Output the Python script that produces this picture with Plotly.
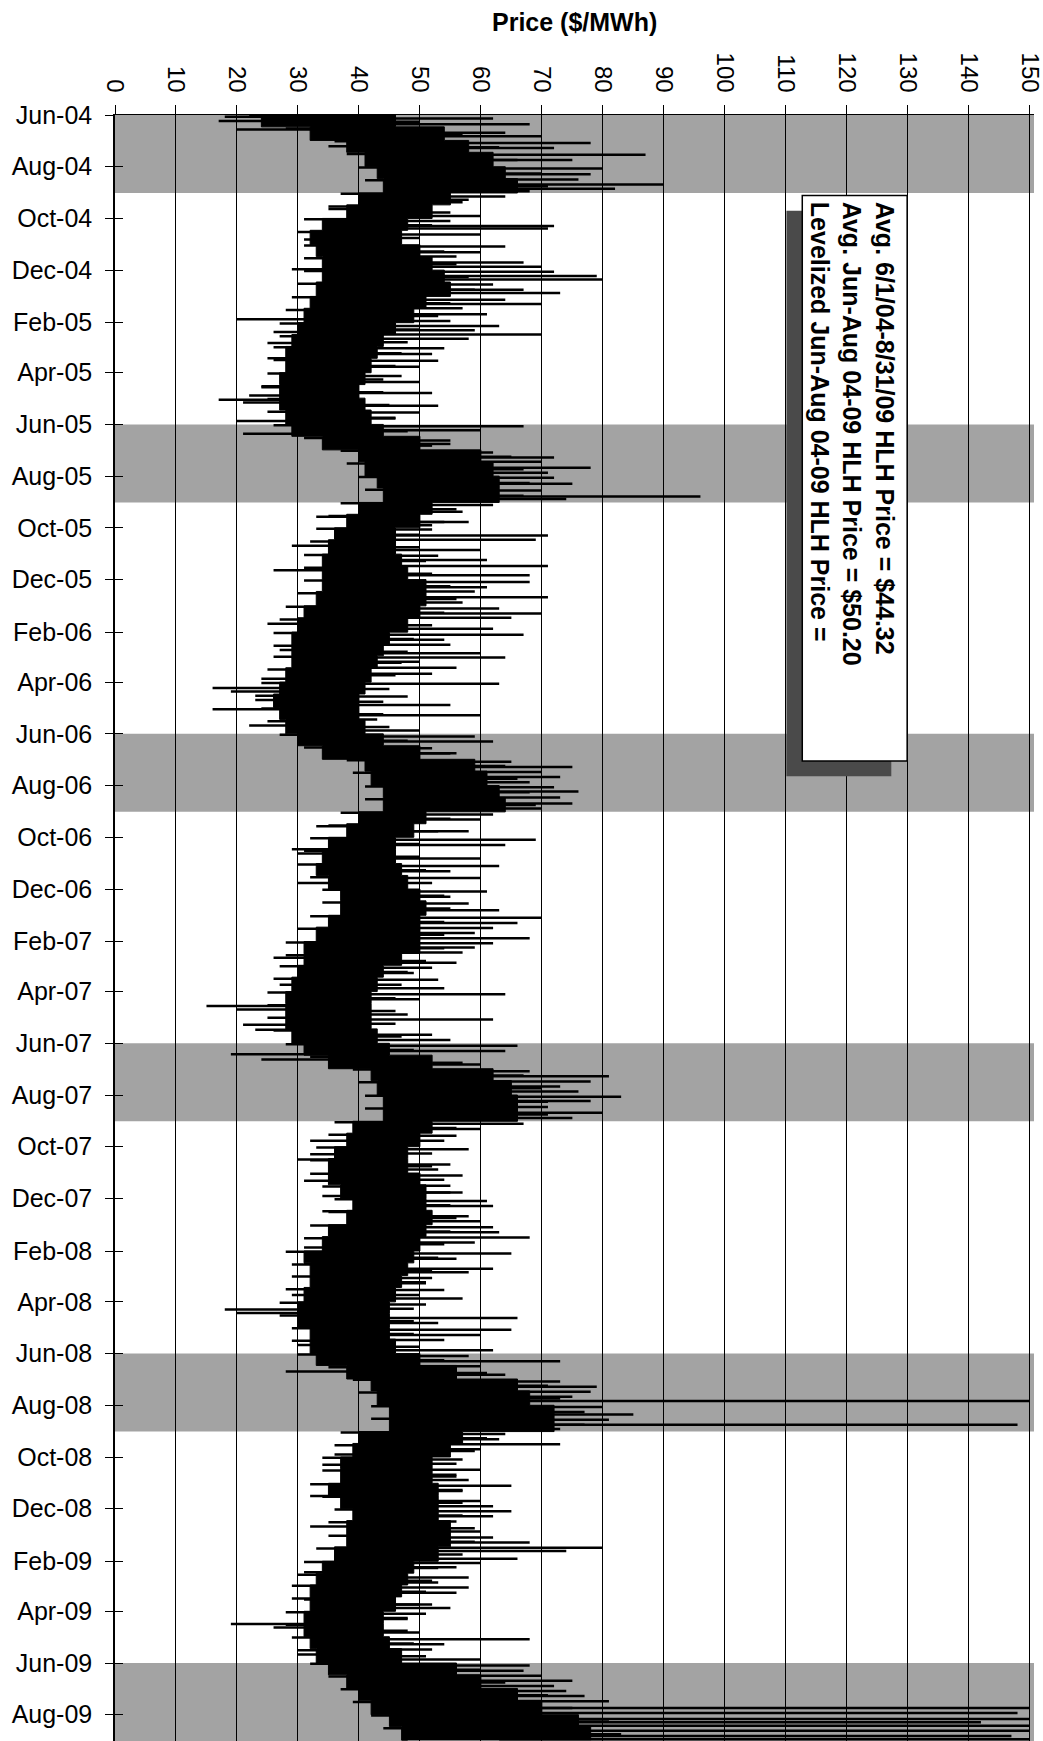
import numpy as np
import pandas as pd
import plotly.graph_objects as go

# ---------------- data ----------------
# semi-monthly envelope of the daily HLH price band (1st and 15th of each month)
env_dates = list(pd.date_range("2004-06-01", "2009-08-16", freq="SMS")) + [pd.Timestamp("2009-08-31")]

price_low = [
    # 2004 Jun-Dec
    24, 32, 38, 41, 43, 44, 40, 38, 34, 32, 33, 34, 34, 33,
    # 2005
    32, 31, 30, 29, 28, 28, 27, 27, 27, 28, 29, 34, 40, 41, 43, 44, 40, 38, 36, 35, 34, 34, 34, 33,
    # 2006
    31, 30, 29, 29, 29, 28, 27, 26, 27, 28, 30, 34, 41, 42, 44, 44, 40, 38, 35, 34, 33, 35, 37, 37,
    # 2007
    35, 33, 31, 31, 30, 29, 28, 28, 28, 29, 31, 35, 42, 43, 44, 44, 39, 38, 36, 35, 35, 37, 39, 38,
    # 2008
    35, 34, 31, 32, 32, 31, 30, 30, 32, 32, 33, 38, 42, 43, 45, 45, 40, 39, 37, 37, 35, 37, 39, 38,
    # 2009 Jan-Aug
    38, 36, 34, 33, 32, 32, 31, 31, 32, 33, 35, 38, 40, 42, 45, 47,
    48,
]
price_high = [
    # 2004 Jun-Dec
    46, 54, 58, 62, 64, 66, 55, 52, 48, 47, 50, 52, 54, 55,
    # 2005
    51, 49, 46, 44, 43, 42, 41, 40, 41, 42, 44, 50, 60, 62, 63, 63, 52, 50, 46, 46, 47, 48, 51, 51,
    # 2006
    50, 48, 45, 44, 43, 42, 41, 40, 40, 41, 44, 50, 59, 61, 63, 64, 51, 49, 46, 46, 47, 48, 50, 51,
    # 2007
    50, 50, 50, 47, 44, 43, 42, 42, 42, 43, 45, 52, 62, 65, 66, 66, 52, 50, 48, 48, 50, 51, 51, 52,
    # 2008
    51, 50, 49, 48, 47, 46, 45, 45, 45, 46, 50, 56, 66, 68, 72, 72, 57, 55, 52, 52, 53, 53, 53, 55,
    # 2009 Jan-Aug
    55, 53, 49, 48, 47, 46, 44, 44, 45, 47, 56, 60, 66, 70, 76, 78,
    78,
]

# single-day price excursions (date, $/MWh)
spike_dates = [
    "2004-06-03", "2004-06-05", "2004-06-08", "2004-06-12", "2004-06-18", "2004-06-22", "2004-06-26",
    "2004-07-04", "2004-07-08", "2004-07-10", "2004-07-18", "2004-07-24",
    "2004-08-03", "2004-08-10", "2004-08-16", "2004-08-22", "2004-08-27", "2004-08-30",
    "2004-09-05", "2004-09-12", "2004-09-20", "2004-09-24", "2004-09-28",
    "2004-10-04", "2004-10-10", "2004-10-13", "2004-10-20", "2004-10-26",
    "2004-11-03", "2004-11-10", "2004-11-15", "2004-11-22", "2004-11-27", "2004-11-30",
    "2004-12-03", "2004-12-08", "2004-12-12", "2004-12-18", "2004-12-24", "2004-12-28",
    "2005-01-05", "2005-01-10", "2005-01-15", "2005-01-22", "2005-01-28", "2005-01-30",
    "2005-02-05", "2005-02-10", "2005-02-12", "2005-02-15", "2005-02-20", "2005-02-25",
    "2005-03-03", "2005-03-10", "2005-03-15", "2005-03-18", "2005-03-25",
    "2005-04-05", "2005-04-12", "2005-04-18", "2005-04-25", "2005-04-28",
    "2005-05-03", "2005-05-06", "2005-05-10", "2005-05-18", "2005-05-25", "2005-05-28",
    "2005-06-03", "2005-06-08", "2005-06-12", "2005-06-20", "2005-06-26",
    "2005-07-04", "2005-07-10", "2005-07-15", "2005-07-22", "2005-07-28",
    "2005-08-03", "2005-08-10", "2005-08-18", "2005-08-25", "2005-08-28",
    "2005-09-04", "2005-09-12", "2005-09-18", "2005-09-24", "2005-09-28",
    "2005-10-03", "2005-10-10", "2005-10-15", "2005-10-22", "2005-10-27",
    "2005-11-03", "2005-11-08", "2005-11-15", "2005-11-20", "2005-11-26",
    "2005-12-04", "2005-12-10", "2005-12-15", "2005-12-22", "2005-12-28",
    "2006-01-04", "2006-01-10", "2006-01-15", "2006-01-22", "2006-01-28",
    "2006-02-04", "2006-02-10", "2006-02-16", "2006-02-22", "2006-02-26",
    "2006-03-03", "2006-03-08", "2006-03-15", "2006-03-22", "2006-03-28",
    "2006-04-03", "2006-04-08", "2006-04-12", "2006-04-18", "2006-04-22", "2006-04-28",
    "2006-05-03", "2006-05-10", "2006-05-15", "2006-05-22", "2006-05-28",
    "2006-06-04", "2006-06-10", "2006-06-18", "2006-06-24",
    "2006-07-04", "2006-07-10", "2006-07-16", "2006-07-22", "2006-07-28",
    "2006-08-03", "2006-08-08", "2006-08-15", "2006-08-22", "2006-08-28",
    "2006-09-04", "2006-09-10", "2006-09-18", "2006-09-24",
    "2006-10-04", "2006-10-10", "2006-10-15", "2006-10-20", "2006-10-26",
    "2006-11-04", "2006-11-10", "2006-11-18", "2006-11-24",
    "2006-12-04", "2006-12-10", "2006-12-18", "2006-12-26",
    "2007-01-04", "2007-01-10", "2007-01-16", "2007-01-22", "2007-01-28",
    "2007-02-03", "2007-02-08", "2007-02-14", "2007-02-20", "2007-02-26",
    "2007-03-04", "2007-03-10", "2007-03-18", "2007-03-24", "2007-03-28",
    "2007-04-04", "2007-04-10", "2007-04-18", "2007-04-22", "2007-04-28",
    "2007-05-04", "2007-05-10", "2007-05-16", "2007-05-22", "2007-05-28",
    "2007-06-04", "2007-06-10", "2007-06-14", "2007-06-20", "2007-06-26",
    "2007-07-04", "2007-07-10", "2007-07-16", "2007-07-22", "2007-07-28",
    "2007-08-03", "2007-08-08", "2007-08-15", "2007-08-22", "2007-08-28",
    "2007-09-04", "2007-09-10", "2007-09-18", "2007-09-24",
    "2007-10-04", "2007-10-10", "2007-10-16", "2007-10-22", "2007-10-28",
    "2007-11-04", "2007-11-10", "2007-11-16", "2007-11-24", "2007-11-28",
    "2007-12-04", "2007-12-10", "2007-12-16", "2007-12-22", "2007-12-28",
    "2008-01-04", "2008-01-10", "2008-01-16", "2008-01-22", "2008-01-28",
    "2008-02-04", "2008-02-10", "2008-02-16", "2008-02-22", "2008-02-26",
    "2008-03-04", "2008-03-10", "2008-03-18", "2008-03-24", "2008-03-28",
    "2008-04-04", "2008-04-10", "2008-04-14", "2008-04-20", "2008-04-26",
    "2008-05-04", "2008-05-10", "2008-05-16", "2008-05-22", "2008-05-28",
    "2008-06-04", "2008-06-10", "2008-06-16", "2008-06-22", "2008-06-26",
    "2008-07-04", "2008-07-10", "2008-07-16", "2008-07-22", "2008-07-27",
    "2008-08-03", "2008-08-12", "2008-08-18", "2008-08-24", "2008-08-29",
    "2008-09-04", "2008-09-10", "2008-09-16", "2008-09-22", "2008-09-28",
    "2008-10-04", "2008-10-10", "2008-10-16", "2008-10-22", "2008-10-28",
    "2008-11-04", "2008-11-10", "2008-11-16", "2008-11-22", "2008-11-28",
    "2008-12-04", "2008-12-10", "2008-12-16", "2008-12-22", "2008-12-28",
    "2009-01-04", "2009-01-10", "2009-01-16", "2009-01-20", "2009-01-26", "2009-01-29",
    "2009-02-03", "2009-02-08", "2009-02-14", "2009-02-20", "2009-02-26",
    "2009-03-04", "2009-03-10", "2009-03-18", "2009-03-24", "2009-03-28",
    "2009-04-04", "2009-04-10", "2009-04-16", "2009-04-20", "2009-04-26",
    "2009-05-04", "2009-05-10", "2009-05-16", "2009-05-22", "2009-05-28",
    "2009-06-04", "2009-06-10", "2009-06-16", "2009-06-22", "2009-06-28",
    "2009-07-04", "2009-07-10", "2009-07-16", "2009-07-24", "2009-07-30",
    "2009-08-06", "2009-08-10", "2009-08-14", "2009-08-20", "2009-08-26", "2009-08-30",
]
spike_values = [
    18, 62, 17, 68, 20, 64, 70,
    78, 35, 72, 87, 75,
    80, 78, 76, 90, 82, 68,
    64, 57, 35, 51, 60,
    55, 72, 71, 60, 31,
    64, 60, 56, 67, 70, 29,
    72, 79, 80, 62, 67, 73,
    64, 70, 57, 61, 20, 55,
    63, 59, 26, 70, 58, 25,
    54, 52, 25, 53, 50,
    47, 50, 24, 52, 22,
    17, 21, 53, 50, 46, 20,
    67, 60, 21, 55, 52,
    62, 72, 70, 78, 71,
    72, 75, 70, 96, 74,
    62, 57, 33, 58, 52,
    52, 71, 69, 29, 60,
    53, 61, 71, 26, 68,
    68, 61, 59, 71, 57,
    63, 70, 65, 25, 62,
    67, 54, 55, 27, 60,
    64, 50, 56, 52, 24,
    63, 16, 19, 48, 23, 55,
    16, 60, 43, 22, 50,
    59, 62, 52, 56,
    65, 75, 70, 73, 68,
    72, 76, 73, 75, 70,
    62, 60, 33, 58,
    69, 64, 29, 30, 60,
    63, 55, 60, 30,
    61, 55, 58, 63,
    70, 66, 62, 59, 68,
    62, 59, 57, 26, 56,
    52, 49, 53, 27, 54,
    64, 50, 15, 20, 48,
    62, 21, 23, 52, 55,
    66, 64, 19, 24, 60,
    68, 81, 78, 73, 76,
    83, 78, 71, 80, 75,
    67, 60, 56, 32,
    58, 32, 30, 55, 53,
    57, 31, 55, 57, 34,
    61, 62, 34, 58, 60,
    62, 63, 68, 59, 31,
    65, 56, 31, 62, 58,
    52, 51, 54, 29, 57,
    51, 18, 20, 66, 53,
    65, 60, 54, 30, 62,
    58, 73, 60, 28, 64,
    73, 79, 78, 75, 150,
    80, 85, 81, 148, 73,
    64, 63, 73, 60, 36,
    57, 34, 60, 56, 58,
    65, 57, 32, 60, 62,
    65, 62, 56, 32, 60,
    62, 68, 80, 74, 36, 66,
    60, 56, 31, 58, 53,
    58, 56, 31, 52, 55,
    51, 48, 19, 26, 50,
    68, 54, 52, 30, 60,
    68, 67, 70, 75, 72,
    74, 77, 81, 150, 148,
    150, 142, 150, 150, 147, 150,
]

# smaller day-to-day excursions at the edges of the band, four per month
# (days 2, 9, 17, 24 of each month, Jun-04 .. Aug-09)
minor_days = [2, 9, 17, 24]
minor_values = [
    22, 50, 28, 57,  36, 63, 38, 66,  40, 70, 41, 71,  37, 58, 35, 55,
    31, 52, 30, 50,  31, 54, 31, 56,  31, 58, 30, 59,
    29, 55, 28, 53,  27, 50, 27, 48,  26, 47, 26, 46,  25, 44, 24, 44,
    25, 45, 25, 46,  26, 48, 31, 55,  37, 65, 38, 67,  40, 68, 41, 67,
    37, 56, 35, 54,  33, 50, 32, 50,  31, 51, 31, 52,  31, 55, 30, 56,
    28, 54, 27, 52,  26, 49, 26, 48,  26, 47, 25, 46,  24, 45, 23, 44,
    24, 44, 25, 45,  27, 48, 31, 55,  38, 64, 39, 66,  41, 68, 41, 69,
    37, 55, 35, 53,  32, 50, 31, 50,  30, 51, 32, 52,  34, 54, 34, 55,
    32, 54, 30, 54,  28, 54, 28, 51,  27, 48, 26, 47,  25, 46, 25, 46,
    25, 46, 26, 47,  28, 49, 32, 57,  39, 67, 40, 70,  41, 71, 41, 71,
    36, 56, 35, 54,  33, 52, 32, 52,  32, 54, 34, 55,  36, 55, 35, 56,
    32, 55, 31, 54,  28, 53, 29, 52,  29, 51, 28, 50,  27, 49, 27, 49,
    29, 49, 29, 50,  30, 54, 35, 61,  39, 71, 40, 73,  42, 77, 42, 77,
    37, 61, 36, 59,  34, 56, 34, 56,  32, 57, 34, 57,  36, 57, 35, 59,
    35, 59, 33, 57,  31, 53, 30, 52,  29, 51, 29, 50,  28, 48, 28, 48,
    29, 49, 30, 51,  32, 60, 35, 64,  37, 71, 39, 75,  42, 81, 44, 83,
]

# summer (Jun-Aug) shading periods
summer_starts = ["2004-06-01", "2005-06-01", "2006-06-01", "2007-06-01", "2008-06-01", "2009-06-01"]
summer_ends = ["2004-09-01", "2005-09-01", "2006-09-01", "2007-09-01", "2008-09-01", "2009-09-01"]

legend_lines = [
    "Avg. 6/1/04-8/31/09 HLH Price = $44.32",
    "Avg. Jun-Aug 04-09 HLH Price = $50.20",
    "Levelized Jun-Aug 04-09 HLH Price =",
]

x_ticks = list(range(0, 151, 10))

# ---------------- figure ----------------
months = pd.date_range("2004-06-01", "2009-08-01", freq="MS")
minor_dates = [m + pd.Timedelta(days=d - 1) for m in months for d in minor_days]
assert len(env_dates) == len(price_low) == len(price_high)
assert len(spike_dates) == len(spike_values)
assert len(minor_dates) == len(minor_values)

fig = go.Figure()

# price band: low edge, then high edge filled back to it
fig.add_trace(go.Scatter(
    x=price_low, y=env_dates, mode="lines",
    line=dict(color="black", width=1, shape="vh"),
    hoverinfo="skip", showlegend=False,
))
fig.add_trace(go.Scatter(
    x=price_high, y=env_dates, mode="lines", fill="tonextx", fillcolor="black",
    line=dict(color="black", width=1, shape="vh"),
    hoverinfo="skip", showlegend=False,
))

# excursions drawn from the middle of the band to the day's value
env_ts = np.array([d.value for d in env_dates])
mid = (np.array(price_low) + np.array(price_high)) / 2.0
sx, sy = [], []
for d, v in list(zip(spike_dates, spike_values)) + list(zip(minor_dates, minor_values)):
    t = pd.Timestamp(d)
    i = int(np.argmin(np.abs(env_ts - t.value)))
    sx += [float(mid[i]), v, None]
    sy += [t, t, None]
fig.add_trace(go.Scatter(
    x=sx, y=sy, mode="lines", line=dict(color="black", width=2.5),
    hoverinfo="skip", showlegend=False,
))

# dummy trace for the inner-tick axis
fig.add_trace(go.Scatter(x=[None], y=[None], yaxis="y2", showlegend=False, hoverinfo="skip"))

shapes = []
for s, e in zip(summer_starts, summer_ends):
    shapes.append(dict(type="rect", xref="paper", yref="y", x0=0, x1=1, y0=s, y1=e,
                       fillcolor="#a3a3a3", line=dict(width=0), layer="between"))

# text box with shadow
box_x0, box_x1 = 112.7, 129.9
box_y0, box_y1 = "2004-09-04", "2006-07-03"
shapes.append(dict(type="rect", xref="x", yref="y", x0=box_x0 - 2.6, x1=box_x1 - 2.6,
                   y0="2004-09-22", y1="2006-07-21", fillcolor="#4a4a4a",
                   line=dict(width=0), layer="above"))
shapes.append(dict(type="rect", xref="x", yref="y", x0=box_x0, x1=box_x1,
                   y0=box_y0, y1=box_y1, fillcolor="white",
                   line=dict(color="black", width=1.5), layer="above"))

annotations = [
    dict(text="<b>" + "<br>".join(legend_lines) + "</b>", xref="x", yref="y",
         x=box_x1 - 1.1, y="2004-09-09", xanchor="right", yanchor="top",
         textangle=90, align="left", showarrow=False,
         font=dict(family="Liberation Sans, Arial", size=25, color="black")),
    dict(text="<b>Price ($/MWh)</b>", xref="paper", yref="paper", x=0.5, y=1.057,
         xanchor="center", yanchor="middle", showarrow=False,
         font=dict(family="Liberation Sans, Arial", size=25, color="black")),
]

fig.update_layout(
    width=1043, height=1741,
    margin=dict(l=115, r=9, t=115, b=0),
    paper_bgcolor="white", plot_bgcolor="white",
    font=dict(family="Liberation Sans, Arial", color="black"),
    shapes=shapes, annotations=annotations,
    xaxis=dict(
        range=[0, 150.7], side="top", tickmode="array", tickvals=x_ticks,
        ticktext=[str(v) for v in x_ticks], tickangle=90,
        ticks="outside", ticklen=9, tickcolor="black", tickwidth=1,
        tickfont=dict(size=24, color="black"),
        showgrid=True, gridcolor="black", gridwidth=1,
        showline=True, linecolor="black", linewidth=1,
        zeroline=False, ticklabelstandoff=4, ticklabeloverflow="allow",
    ),
    yaxis=dict(
        type="date", range=["2009-09-01", "2004-06-01"],
        tick0="2004-06-01", dtick="M2", tickformat="%b-%y",
        ticks="outside", ticklen=8, tickcolor="black", tickwidth=1,
        tickfont=dict(size=25, color="black"),
        showgrid=False, showline=True, linecolor="black", linewidth=1.5,
        zeroline=False, ticklabelstandoff=8,
    ),
    yaxis2=dict(
        type="date", overlaying="y", matches="y", side="left", anchor="x",
        tick0="2004-06-01", dtick="M2", ticks="inside", ticklen=8,
        tickcolor="black", tickwidth=1, showticklabels=False,
        showgrid=False, showline=False, zeroline=False,
    ),
)

fig.write_html("out.html", config={"displayModeBar": False},
               post_script="document.body.style.margin='0';")
